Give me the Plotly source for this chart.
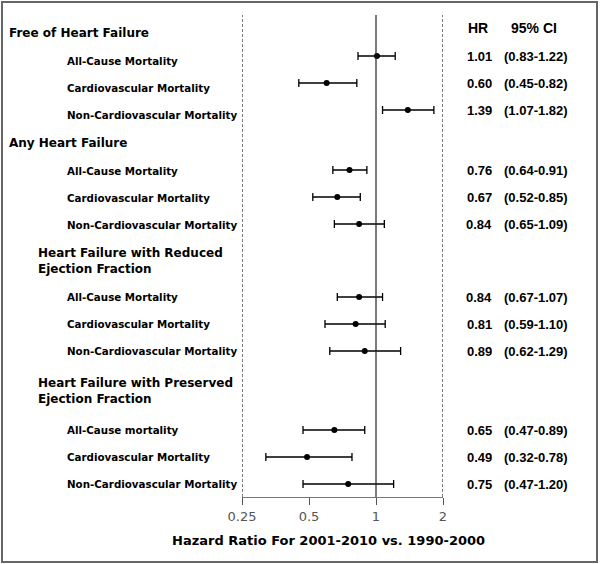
import plotly.graph_objects as go

groups = [
    "Free of Heart Failure",
    "Any Heart Failure",
    "Heart Failure with Reduced<br>Ejection Fraction",
    "Heart Failure with Preserved<br>Ejection Fraction",
]
outcomes = [
    "All-Cause Mortality", "Cardiovascular Mortality", "Non-Cardiovascular Mortality",
    "All-Cause Mortality", "Cardiovascular Mortality", "Non-Cardiovascular Mortality",
    "All-Cause Mortality", "Cardiovascular Mortality", "Non-Cardiovascular Mortality",
    "All-Cause mortality", "Cardiovascular Mortality", "Non-Cardiovascular Mortality",
]
hr = [1.01, 0.60, 1.39, 0.76, 0.67, 0.84, 0.84, 0.81, 0.89, 0.65, 0.49, 0.75]
ci_low = [0.83, 0.45, 1.07, 0.64, 0.52, 0.65, 0.67, 0.59, 0.62, 0.47, 0.32, 0.47]
ci_high = [1.22, 0.82, 1.82, 0.91, 0.85, 1.09, 1.07, 1.10, 1.29, 0.89, 0.78, 1.20]
tick_vals = [0.25, 0.5, 1, 2]
tick_text = ["0.25", "0.5", "1", "2"]
x_title = "Hazard Ratio For 2001-2010 vs. 1990-2000"

# layout (pixel positions, y axis runs in px from the top)
W, H = 600, 564
L, R, T, B = 242, 443, 15, 497
group_y = [33, 143, 261, 391]
group_x = [7, 7, 36, 36]
row_y = [56, 83, 110, 170, 197, 224, 297, 324, 351, 430, 457, 484]
label_dy = [5, 5, 5, 1, 1, 1, 0, 0, 0, 0, 0, 0]


def px(x):
    return (x - L) / (R - L)


def py(y):
    return (B - y) / (B - T)


bold = "DejaVu Sans"
label_font = dict(family=bold, size=10.3, color="black", weight="bold")
group_font = dict(family=bold, size=12, color="black", weight="bold")
num_font = dict(family="Liberation Sans", size=13, color="black", weight="bold")
head_font = dict(family="Liberation Sans", size=14, color="black", weight="bold")

fig = go.Figure()
fig.add_trace(go.Scatter(
    x=hr, y=row_y, mode="markers",
    marker=dict(color="black", size=6),
    error_x=dict(
        type="data", symmetric=False,
        array=[h - v for v, h in zip(hr, ci_high)],
        arrayminus=[v - lo for v, lo in zip(hr, ci_low)],
        color="black", thickness=1.3, width=4,
    ),
    hoverinfo="skip", showlegend=False,
))

shapes = []
for v, dash in [(0.25, "3px,2px"), (1, "solid"), (2, "3px,2px")]:
    shapes.append(dict(type="line", xref="x", yref="paper", x0=v, x1=v, y0=0, y1=1,
                       line=dict(color="#222", width=1.2, dash=dash)))
shapes.append(dict(type="rect", xref="paper", yref="paper",
                   x0=px(2), x1=px(597), y0=py(2), y1=py(562),
                   line=dict(color="#666", width=2)))

annotations = []
for g, gx, gy in zip(groups, group_x, group_y):
    annotations.append(dict(x=px(gx), y=gy, xref="paper", yref="y", text=g,
                            xanchor="left", yanchor="middle", align="left",
                            showarrow=False, font=group_font))
for name, y, dy, v, lo, hi in zip(outcomes, row_y, label_dy, hr, ci_low, ci_high):
    annotations.append(dict(x=px(65), y=y + dy, xref="paper", yref="y", text=name,
                            xanchor="left", yanchor="middle", showarrow=False, font=label_font))
    annotations.append(dict(x=px(494), y=y, xref="paper", yref="y", text=f"{v:.2f}",
                            xanchor="right", yanchor="middle", showarrow=False, font=num_font))
    annotations.append(dict(x=px(502), y=y, xref="paper", yref="y", text=f"({lo:.2f}-{hi:.2f})",
                            xanchor="left", yanchor="middle", showarrow=False, font=num_font))
annotations.append(dict(x=px(478), y=28, xref="paper", yref="y", text="HR",
                        xanchor="center", yanchor="middle", showarrow=False, font=head_font))
annotations.append(dict(x=px(534), y=28, xref="paper", yref="y", text="95% CI",
                        xanchor="center", yanchor="middle", showarrow=False, font=head_font))
annotations.append(dict(x=px(328), y=py(540), xref="paper", yref="paper", text=x_title,
                        xanchor="center", yanchor="middle", showarrow=False,
                        font=dict(family=bold, size=13, color="black", weight="bold")))

fig.update_layout(
    width=W, height=H,
    margin=dict(l=L, r=W - R, t=T, b=H - B),
    plot_bgcolor="white", paper_bgcolor="white",
    xaxis=dict(
        type="log", range=[-0.60206, 0.30103],
        tickvals=tick_vals, ticktext=tick_text,
        showline=True, linecolor="#777", linewidth=1.2,
        ticks="outside", ticklen=7, tickcolor="#555", tickwidth=1.2,
        tickfont=dict(family="DejaVu Sans", size=13, color="#555"),
        showgrid=False, zeroline=False, fixedrange=True,
    ),
    yaxis=dict(range=[B, T], visible=False, fixedrange=True),
    shapes=shapes,
    annotations=annotations,
)

fig.write_html("out.html", config={"displayModeBar": False},
               post_script="document.body.style.margin='0';")
